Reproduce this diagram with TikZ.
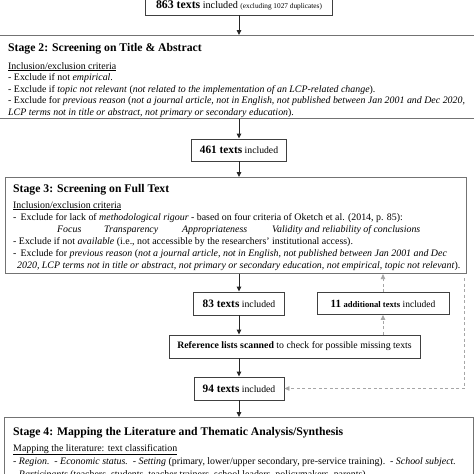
\documentclass[tikz,border=0pt]{standalone}
\usepackage{fontspec}
\setmainfont{Liberation Serif}
\usetikzlibrary{arrows.meta}
\begin{document}
\begin{tikzpicture}[x=1pt,y=-1pt,
  numbox/.style={draw=black!75, line width=0.9pt, inner sep=0pt, minimum height=22pt},
  stagebox/.style={draw=black!55, line width=1.1pt, inner sep=0pt, anchor=north west},
  txt/.style={anchor=base west, inner sep=0pt, font=\fontsize{9.9}{11}\selectfont},
  ttl/.style={anchor=base west, inner sep=0pt, font=\fontsize{11.7}{13}\selectfont\bfseries},
  arr/.style={-{Triangle[length=5pt,width=4.5pt]}, line width=0.9pt, black!85},
  darr/.style={-{Triangle[length=5pt,width=4.5pt]}, dash pattern=on 3pt off 2.5pt, line width=0.8pt, black!35},
]
\useasboundingbox (0,0) rectangle (474,474);
\fill[white] (0,0) rectangle (474,474);

% number boxes
\node[numbox, minimum width=187pt, minimum height=20pt] (b863) at (239,5) {\textbf{\fontsize{11.8}{13}\selectfont 863 texts} {\fontsize{10.2}{11}\selectfont included} {\fontsize{7.3}{8}\selectfont (excluding 1027 duplicates)}};
\node[numbox, minimum width=95pt] (b461) at (239,150) {\textbf{\fontsize{11.3}{13}\selectfont 461 texts} {\fontsize{9.7}{11}\selectfont included}};
\node[numbox, minimum width=91pt, minimum height=23pt] (b83) at (239,303.5) {\textbf{\fontsize{11.3}{13}\selectfont 83 texts} {\fontsize{9.7}{11}\selectfont included}};
\node[numbox, minimum width=132pt] (b11) at (383,303.5) {\textbf{\fontsize{11}{13}\selectfont 11} \textbf{\fontsize{8.6}{11}\selectfont additional texts} {\fontsize{9.5}{11}\selectfont included}};
\node[numbox, minimum width=251pt, minimum height=23pt] (ref) at (294.5,346.5) {\fontsize{9.8}{11}\selectfont\textbf{Reference lists scanned} to check for possible missing texts};
\node[numbox, minimum width=90pt, minimum height=23pt] (b94) at (239,388.5) {\textbf{\fontsize{11.3}{13}\selectfont 94 texts} {\fontsize{9.7}{11}\selectfont included}};

% stage boxes
\node[stagebox, minimum width=480pt, minimum height=82.5pt] (s2) at (-3,35) {};
\node[stagebox, minimum width=461pt, minimum height=96pt] (s3) at (5,177) {};
\node[stagebox, minimum width=469pt, minimum height=80pt] (s4) at (4,417) {};

% stage 2 text
\node[ttl] (s2t) at (8,51) {Stage 2: Screening on Title \& Abstract};
\node[txt] (s2a) at (8,69) {\underline{Inclusion/exclusion criteria}};
\node[txt] (s2b) at (8,80.5) {- Exclude if not \textit{empirical}.};
\node[txt] (s2c) at (8,92) {- Exclude if \textit{topic not relevant} (\textit{not related to the implementation of an LCP-related change}).};
\node[txt] (s2d) at (8,103.5) {- Exclude for \textit{previous reason} (\textit{not a journal article, not in English, not published between Jan 2001 and Dec 2020,}};
\node[txt] (s2e) at (8,115) {\textit{LCP terms not in title or abstract, not primary or secondary education}).};

% stage 3 text
\node[ttl] (s3t) at (13,192) {Stage 3: Screening on Full Text};
\node[txt] (s3a) at (13,208) {\underline{Inclusion/exclusion criteria}};
\node[txt] (s3b) at (13,220) {- \,Exclude for lack of \textit{methodological rigour} - based on four criteria of Oketch et al. (2014, p. 85):};
\node[txt] (s3c) at (57,232) {\makebox[47pt][l]{\textit{Focus}}\makebox[78pt][l]{\textit{Transparency}}\makebox[90pt][l]{\textit{Appropriateness}}\textit{Validity and reliability of conclusions}};
\node[txt] (s3d) at (13,244) {- Exclude if not \textit{available} (i.e., not accessible by the researchers' institutional access).};
\node[txt] (s3e) at (13,256) {- \,Exclude for \textit{previous reason} (\textit{not a journal article, not in English, not published between Jan 2001 and Dec}};
\node[txt] (s3f) at (17,268) {\textit{2020, LCP terms not in title or abstract, not primary or secondary education, not empirical, topic not relevant}).};

% stage 4 text
\node[ttl] (s4t) at (13,435) {Stage 4: Mapping the Literature and Thematic Analysis/Synthesis};
\node[txt] (s4a) at (13,451) {\underline{Mapping the literature: text classification}};
\node[txt] (s4b) at (13,464.5) {- \textit{Region.}\ \ - \textit{Economic status.}\ \ - \textit{Setting} (primary, lower/upper secondary, pre-service training).\ \ - \textit{School subject.}};
\node[txt] (s4c) at (13,477.5) {- \textit{Participants} (teachers, students, teacher trainers, school leaders, policymakers, parents).};

% solid arrows
\draw[arr] (b863.south) -- (b863.south |- s2.north);
\draw[arr] (b461.north |- s2.south) -- (b461.north);
\draw[arr] (b461.south) -- (b461.south |- s3.north);
\draw[arr] (b83.north |- s3.south) -- (b83.north);
\draw[arr] (b83.south) -- (b83.south |- ref.north);
\draw[arr] (b94.north |- ref.south) -- (b94.north);
\draw[arr] (b94.south) -- (b94.south |- s4.north);

% dashed arrows
\draw[darr] (b11.south |- ref.north) -- (b11.south);
\draw[darr] (b11.north) -- (b11.north |- s3.south);
\coordinate (rtop) at (464,278);
\draw[darr] (rtop) |- (b94.east);
\end{tikzpicture}
\end{document}
